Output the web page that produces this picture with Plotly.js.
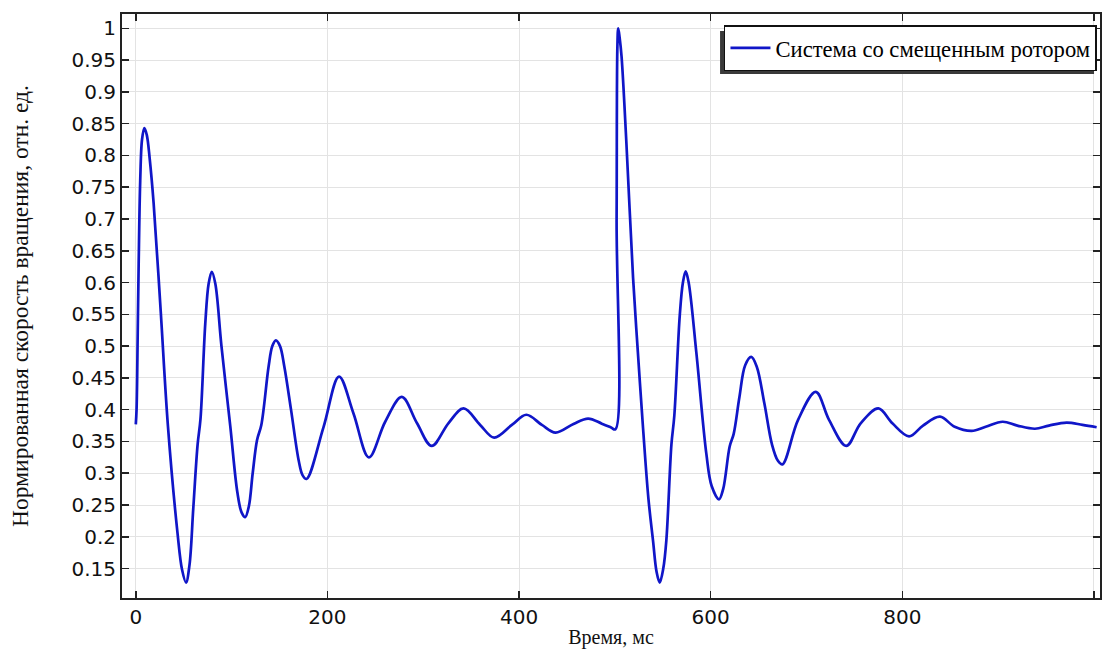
<!DOCTYPE html>
<html>
<head>
<meta charset="utf-8">
<script src="https://cdn.plot.ly/plotly-3.0.1.min.js"></script>
<style>
  html, body { margin: 0; padding: 0; background: #ffffff; }
  #chart { width: 1103px; height: 649px; }
</style>
</head>
<body>
<div id="chart"></div>
<script>
// Time, ms
const timeMs = [
  0, 0.8, 2, 3, 4.6, 6.5, 8.9, 11.5, 14.5, 18.6, 26, 33.5, 43.6, 48.3, 52.4,
  56, 60, 64.5, 67.5, 72.5, 76, 79.3, 83, 89.4, 98.6, 106, 110.5, 114.2,
  118, 122, 126.5, 131, 138.6, 142.5, 146.2, 150.5, 155, 162, 170, 174, 178.2,
  196, 212.1, 227.2, 243.3, 260.3, 277.6, 293.4, 308.8, 326.4, 342.1, 359.4, 374, 392.5, 407.6, 423.8, 438.1, 456.8, 472.1, 486.4, 496, 500.5,
  501.8, 502.6, 503.5, 505, 507, 512, 519, 524, 529.4, 535, 539.8, 543.5, 546.8,
  550.5, 553.7, 559, 562, 567.7, 571, 573.9, 577, 585, 595.5, 601, 608.7,
  613, 619.8, 624, 630, 636, 642.3, 648, 656, 664, 670, 674.9,
  691.2, 709.7, 723.5, 741.5, 756.5, 775, 789.6, 807, 821.6, 839.3, 854.6, 872.3, 887, 904.7, 920, 938.4, 953, 971.5, 988, 1002.8
];
// Normalized rotation speed, rel. units
const speedRel = [
  0.377, 0.40, 0.52, 0.63, 0.76, 0.825, 0.843, 0.832, 0.795, 0.725, 0.555, 0.375, 0.205, 0.148, 0.128,
  0.155, 0.245, 0.345, 0.385, 0.535, 0.598, 0.617, 0.598, 0.50, 0.374, 0.27, 0.238, 0.231,
  0.248, 0.30, 0.352, 0.376, 0.468, 0.500, 0.509, 0.500, 0.468, 0.40, 0.32, 0.297, 0.291,
  0.373, 0.452, 0.394, 0.325, 0.381, 0.420, 0.379, 0.343, 0.379, 0.402, 0.376, 0.356, 0.376, 0.392, 0.376, 0.364, 0.3775, 0.386, 0.378, 0.372, 0.369,
  0.70, 0.97, 1.0, 0.985, 0.955, 0.82, 0.607, 0.49, 0.371, 0.26, 0.194, 0.145, 0.128,
  0.150, 0.194, 0.345, 0.39, 0.548, 0.60, 0.6175, 0.60, 0.49, 0.33, 0.28, 0.259,
  0.275, 0.342, 0.362, 0.42, 0.47, 0.483, 0.468, 0.41, 0.345, 0.32, 0.314,
  0.384, 0.428, 0.384, 0.343, 0.3785, 0.402, 0.3785, 0.358, 0.375, 0.389, 0.373, 0.3665, 0.373, 0.381, 0.375, 0.370, 0.375, 0.3796, 0.376, 0.3723
];
const seriesName = 'Система со смещенным ротором';
const xTickVals = [0, 200, 400, 600, 800, 1000];
const xTickText = ['0', '200', '400', '600', '800', ''];
const xTitle = 'Время, мс';
const yTitle = 'Нормированная скорость вращения, отн. ед.';

const axisCommon = {
  showgrid: true,
  gridcolor: '#e3e3e3',
  gridwidth: 1,
  zeroline: false,
  showline: true,
  linecolor: '#222222',
  linewidth: 2,
  mirror: 'ticks',
  ticks: 'inside',
  ticklen: 7,
  tickwidth: 1.5,
  tickcolor: '#222222',
  tickfont: { family: 'DejaVu Sans, sans-serif', size: 20, color: '#111111' }
};

const data = [{
  x: timeMs,
  y: speedRel,
  type: 'scatter',
  mode: 'lines',
  name: seriesName,
  showlegend: true,
  line: { color: 'rgb(16,22,200)', width: 2.7, shape: 'spline', smoothing: 1 }
}];

const layout = {
  width: 1103,
  height: 649,
  margin: { l: 122, r: 3, t: 14, b: 51 },
  paper_bgcolor: '#ffffff',
  plot_bgcolor: '#ffffff',
  showlegend: true,
  xaxis: Object.assign({}, axisCommon, {
    range: [-14.4, 1006.3],
    tickmode: 'array',
    tickvals: xTickVals,
    ticktext: xTickText,
    title: { text: xTitle, font: { family: 'Liberation Serif, serif', size: 20, color: '#111111' }, standoff: 2 }
  }),
  yaxis: Object.assign({}, axisCommon, {
    range: [0.1037, 1.0225],
    tick0: 0,
    dtick: 0.05,
    title: { text: yTitle, font: { family: 'Liberation Serif, serif', size: 23.5, color: '#111111' }, standoff: 36 }
  }),
  legend: {
    x: 0.9969, xanchor: 'right',
    y: 0.981, yanchor: 'top',
    bgcolor: '#ffffff',
    bordercolor: '#111111',
    borderwidth: 1.5,
    itemwidth: 40,
    font: { family: 'Liberation Serif, serif', size: 22.6, color: '#000000' }
  },
  shapes: [{
    type: 'rect', xref: 'paper', yref: 'paper', layer: 'above',
    x0: 0.6115, x1: 0.9939, y0: 0.8973, y1: 0.971,
    fillcolor: '#3a3a3a', line: { width: 0 }
  }]
};

Plotly.newPlot('chart', data, layout, { staticPlot: true, displayModeBar: false });
</script>
</body>
</html>
